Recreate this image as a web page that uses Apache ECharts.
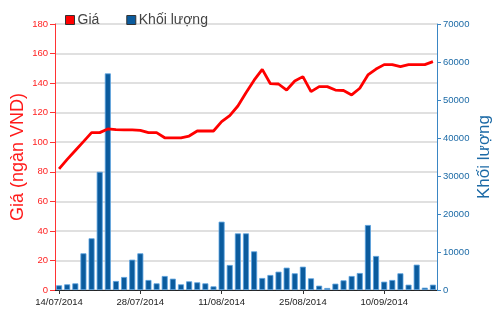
<!DOCTYPE html>
<html><head><meta charset="utf-8">
<script src="https://cdn.jsdelivr.net/npm/echarts@6/dist/echarts.min.js"></script>
<style>html,body{margin:0;padding:0;background:#fff}#c{width:500px;height:312px}</style>
</head><body><div id="c"></div>
<script>
const dates = ['14/07/2014','15/07/2014','16/07/2014','17/07/2014','18/07/2014',
'21/07/2014','22/07/2014','23/07/2014','24/07/2014','25/07/2014',
'28/07/2014','29/07/2014','30/07/2014','31/07/2014','01/08/2014',
'04/08/2014','05/08/2014','06/08/2014','07/08/2014','08/08/2014',
'11/08/2014','12/08/2014','13/08/2014','14/08/2014','15/08/2014',
'18/08/2014','19/08/2014','20/08/2014','21/08/2014','22/08/2014',
'25/08/2014','26/08/2014','27/08/2014','28/08/2014','29/08/2014',
'03/09/2014','04/09/2014','05/09/2014','08/09/2014','09/09/2014',
'10/09/2014','11/09/2014','12/09/2014','15/09/2014','16/09/2014','17/09/2014','18/09/2014'];
const price = [82,88.4,94.4,100.4,106.5,106.5,109,108.5,108.3,108.3,
108,106.5,106.5,103,103,103,104.2,107.6,107.6,107.6,
113.9,118,124.5,133.5,142,149.3,139.6,139.4,135.3,141.4,
144.4,134.2,137.6,137.6,135.3,135,132,136.5,145.5,149.5,
152.5,152.5,151.1,152.5,152.5,152.5,154.5];
const volume = [1230,1490,1750,9650,13600,31100,57000,2370,3420,7980,
9650,2630,1750,3680,2980,1490,2280,2020,1750,960,
17980,6580,14900,14900,10170,3160,3950,4820,5880,4390,
6140,3070,1140,530,1670,2540,3680,4470,17100,8950,
2190,2630,4390,1400,6670,610,1400];
const priceTicks = {min:0, max:180, interval:20};
const volTicks = {min:0, max:70000, interval:10000};

const chart = echarts.init(document.getElementById('c'), null, {renderer:'canvas'});
const fam = 'Liberation Sans, Arial, sans-serif';
chart.setOption({
  animation:false,
  textStyle:{fontFamily:fam},
  legend:{
    left:60, top:8, itemWidth:9, itemHeight:9, itemGap:27,
    icon:'rect',
    itemStyle:{borderColor:'#333', borderWidth:1},
    textStyle:{fontSize:14, color:'#444', fontFamily:fam, padding:[0,0,0,-2]},
    data:['Giá','Khối lượng']
  },
  grid:{left:55, right:63, top:24, bottom:22, containLabel:false, outerBoundsMode:'none'},
  xAxis:[{
    type:'category', data:dates, boundaryGap:true, position:'bottom',
    axisLine:{lineStyle:{color:'#333', width:1}},
    axisTick:{show:true, interval:9, alignWithLabel:true, length:4, lineStyle:{color:'#333'}},
    axisLabel:{interval:9, fontSize:9.5, color:'#222', margin:7, fontFamily:fam},
    splitLine:{show:false}
  },{
    type:'category', data:dates, position:'top',
    axisLine:{lineStyle:{color:'#222', width:1.2}},
    axisTick:{show:false}, axisLabel:{show:false}, splitLine:{show:false}
  }],
  yAxis:[{
    type:'value', position:'left', min:priceTicks.min, max:priceTicks.max, interval:priceTicks.interval,
    name:'Giá (ngàn VND)', nameLocation:'middle', nameGap:28, nameMoveOverlap:false,
    nameTextStyle:{color:'#ff1a1a', fontSize:18, fontFamily:fam},
    axisLine:{show:true, lineStyle:{color:'#ff3333', width:1}},
    axisTick:{show:true, length:5, lineStyle:{color:'#ff3333'}},
    axisLabel:{color:'#ff2222', fontSize:9.5, margin:7, fontFamily:fam},
    splitLine:{show:true, lineStyle:{color:'#d6d6d6', width:1.5}}
  },{
    type:'value', position:'right', min:volTicks.min, max:volTicks.max, interval:volTicks.interval,
    name:'Khối lượng', nameLocation:'middle', nameGap:39, nameMoveOverlap:false,
    nameTextStyle:{color:'#1c6aa6', fontSize:17, fontFamily:fam},
    axisLine:{show:true, lineStyle:{color:'#3a86c4', width:1}},
    axisTick:{show:true, length:4, lineStyle:{color:'#3a86c4'}},
    axisLabel:{color:'#1c6aa6', fontSize:9.5, margin:6, fontFamily:fam, formatter:function(v){return String(v);}},
    splitLine:{show:false}
  }],
  series:[{
    name:'Khối lượng', type:'bar', xAxisIndex:0, yAxisIndex:1, data:volume,
    barWidth:6, z:2,
    itemStyle:{color:'#0b5b9d', borderColor:'#5aa2e0', borderWidth:0.8}
  },{
    name:'Giá', type:'line', xAxisIndex:0, yAxisIndex:0, data:price,
    symbol:'none', z:5,
    lineStyle:{color:'#ff0000', width:2.8},
    itemStyle:{color:'#ff0000'}
  }]
});
</script></body></html>
